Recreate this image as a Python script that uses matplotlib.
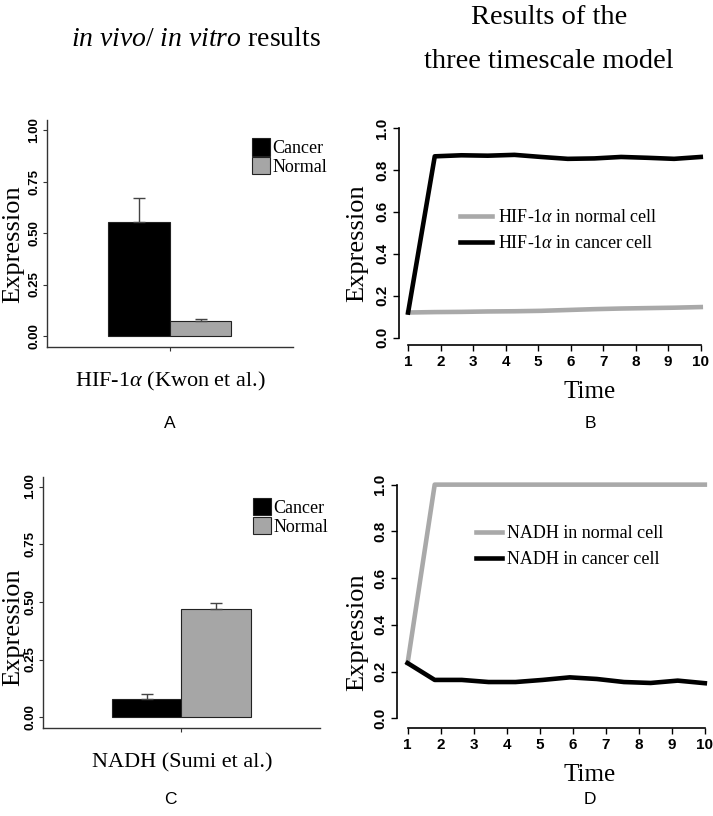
import matplotlib
matplotlib.use('Agg')
import matplotlib.pyplot as plt
import matplotlib.transforms as mtransforms

plt.rcParams['font.family'] = 'Liberation Serif'
plt.rcParams['mathtext.fontset'] = 'custom'
plt.rcParams['mathtext.rm'] = 'Liberation Serif'
plt.rcParams['mathtext.it'] = 'Liberation Serif:italic'

# bar panels (in vivo / in vitro)
groups = ['Cancer', 'Normal']
hif_bar = [0.552, 0.073]
hif_err = [0.117, 0.008]
nadh_bar = [0.081, 0.468]
nadh_err = [0.020, 0.029]
bar_ticks = [0.0, 0.25, 0.5, 0.75, 1.0]
bar_ticklabels = ['0.00', '0.25', '0.50', '0.75', '1.00']

# three timescale model
time = [1, 1.82, 2.64, 3.45, 4.27, 5.09, 5.91, 6.73, 7.55, 8.36, 9.18, 10]
hif_normal = [0.12, 0.122, 0.123, 0.125, 0.126, 0.128, 0.132, 0.136, 0.139, 0.141, 0.143, 0.146]
hif_cancer = [0.12, 0.865, 0.870, 0.868, 0.872, 0.862, 0.853, 0.855, 0.862, 0.858, 0.853, 0.862]
nadh_normal = [0.236, 1.0, 1.0, 1.0, 1.0, 1.0, 1.0, 1.0, 1.0, 1.0, 1.0, 1.0]
nadh_cancer = [0.236, 0.164, 0.164, 0.155, 0.155, 0.164, 0.175, 0.168, 0.155, 0.151, 0.161, 0.150]
line_yticks = [0.0, 0.2, 0.4, 0.6, 0.8, 1.0]
line_xticks = [1, 2, 3, 4, 5, 6, 7, 8, 9, 10]

SANS = ['Liberation Sans Narrow', 'Liberation Sans']

fig = plt.figure(figsize=(7.13, 8.16), dpi=100)


def bar_panel(rect, values, errors, ylim, legend_xy):
    ax = fig.add_axes(rect)
    pos = [-0.5, 0.5]
    bars = ax.bar(pos, values, width=1.0, color=['black', '#a6a6a6'],
                  edgecolor='#222222', linewidth=0.8)
    ax.errorbar(pos, values, yerr=[[0, 0], errors], fmt='none',
                ecolor='#444444', elinewidth=1, capsize=4, capthick=1)
    ax.set_xlim(-2, 2)
    ax.set_ylim(*ylim)
    ax.set_xticks([0])
    ax.set_xticklabels([''])
    ax.set_yticks(bar_ticks)
    ax.set_yticklabels(bar_ticklabels, rotation=90, fontweight='bold',
                       family='Liberation Sans', fontsize=9.5, va='center')
    # labels sit a bit below their ticks in the original
    shift = mtransforms.ScaledTranslation(0, -0.12, fig.dpi_scale_trans)
    for lab in ax.get_yticklabels():
        lab.set_transform(lab.get_transform() + shift)
    ax.tick_params(length=3, width=0.8, color='#333333', pad=2)
    for side in ['top', 'right']:
        ax.spines[side].set_visible(False)
    for side in ['left', 'bottom']:
        ax.spines[side].set_linewidth(1.0)
        ax.spines[side].set_color('#333333')
    ax.legend(bars.patches, groups, loc='upper left',
              bbox_to_anchor=legend_xy, frameon=False, fontsize=13,
              handlelength=1.0, handleheight=1.1, handletextpad=0.15,
              labelspacing=0.0, borderpad=0, borderaxespad=0)
    return ax


def line_panel(rect, normal, cancer, labels, xlim, ylim, legend_xy, hlen):
    ax = fig.add_axes(rect)
    ax.plot(time, normal, color='#a9a9a9', lw=3.3, label=labels[0],
            solid_joinstyle='round')
    ax.plot(time, cancer, color='black', lw=3.3, label=labels[1],
            solid_joinstyle='round')
    ax.set_xlim(*xlim)
    ax.set_ylim(*ylim)
    ax.set_xticks(line_xticks)
    ax.set_xticklabels([str(t) for t in line_xticks], fontweight='bold',
                       family=SANS, fontsize=11)
    ax.set_yticks(line_yticks)
    ax.set_yticklabels(['%.1f' % t for t in line_yticks], rotation=90,
                       fontweight='bold', family=SANS, fontsize=11, va='center')
    ax.tick_params(length=4, width=1.0, pad=3)
    for side in ['top', 'right']:
        ax.spines[side].set_visible(False)
    ax.spines['left'].set_bounds(0, 1)
    ax.spines['bottom'].set_bounds(1, 10)
    ax.spines['left'].set_linewidth(1.2)
    ax.spines['bottom'].set_linewidth(1.2)
    ax.legend(loc='upper left', bbox_to_anchor=legend_xy, frameon=False,
              fontsize=13, handlelength=hlen, handletextpad=0.3,
              labelspacing=0.48, borderpad=0, borderaxespad=0)
    return ax


bar_panel([0.0659, 0.5751, 0.345, 0.2778], hif_bar, hif_err,
          (-0.052, 1.049), (0.833, 0.92))
bar_panel([0.0603, 0.1075, 0.3885, 0.3084], nadh_bar, nadh_err,
          (-0.048, 1.043), (0.758, 0.915))

line_panel([0.5596, 0.5772, 0.436, 0.2749], hif_normal, hif_cancer,
           [r'HIF-1$\alpha$ in normal cell', r'HIF-1$\alpha$ in cancer cell'],
           (0.72, 10.28), (-0.035, 1.035), (0.196, 0.605), 1.8)
line_panel([0.5564, 0.1075, 0.4474, 0.3109], nadh_normal, nadh_cancer,
           ['NADH in normal cell', 'NADH in cancer cell'],
           (0.67, 10.33), (-0.043, 1.043), (0.25, 0.80), 1.4)


def px(x, y):
    return x / 713, 1 - y / 816


# titles
fig.text(*px(196, 40), r'$\it{in\ vivo/\ in\ vitro}$ results', fontsize=20,
         ha='center', va='center')
fig.text(*px(549, 18), 'Results of the', fontsize=20.5,
         ha='center', va='center')
fig.text(*px(549, 62), 'three timescale model', fontsize=20.5,
         ha='center', va='center')

# axis labels
fig.text(*px(13, 244), 'Expression', fontsize=19, rotation=90,
         ha='center', va='center')
fig.text(*px(13, 627), 'Expression', fontsize=19, rotation=90,
         ha='center', va='center')
fig.text(*px(357, 243), 'Expression', fontsize=19, rotation=90,
         ha='center', va='center')
fig.text(*px(357, 632), 'Expression', fontsize=19, rotation=90,
         ha='center', va='center')
fig.text(*px(170, 381), r'HIF-1$\alpha$ (Kwon et al.)', fontsize=16,
         ha='center', va='center')
fig.text(*px(182, 763), 'NADH (Sumi et al.)', fontsize=16,
         ha='center', va='center')
fig.text(*px(590, 392), 'Time', fontsize=18, ha='center', va='center')
fig.text(*px(590, 775), 'Time', fontsize=18, ha='center', va='center')

# panel letters
for letter, (x, y) in zip('ABCD', [(170, 423), (590, 423), (170, 800), (590, 800)]):
    fig.text(*px(x, y), letter, fontsize=12.5, family='Liberation Sans',
             ha='center', va='center')

fig.savefig('out.png', dpi=100)
